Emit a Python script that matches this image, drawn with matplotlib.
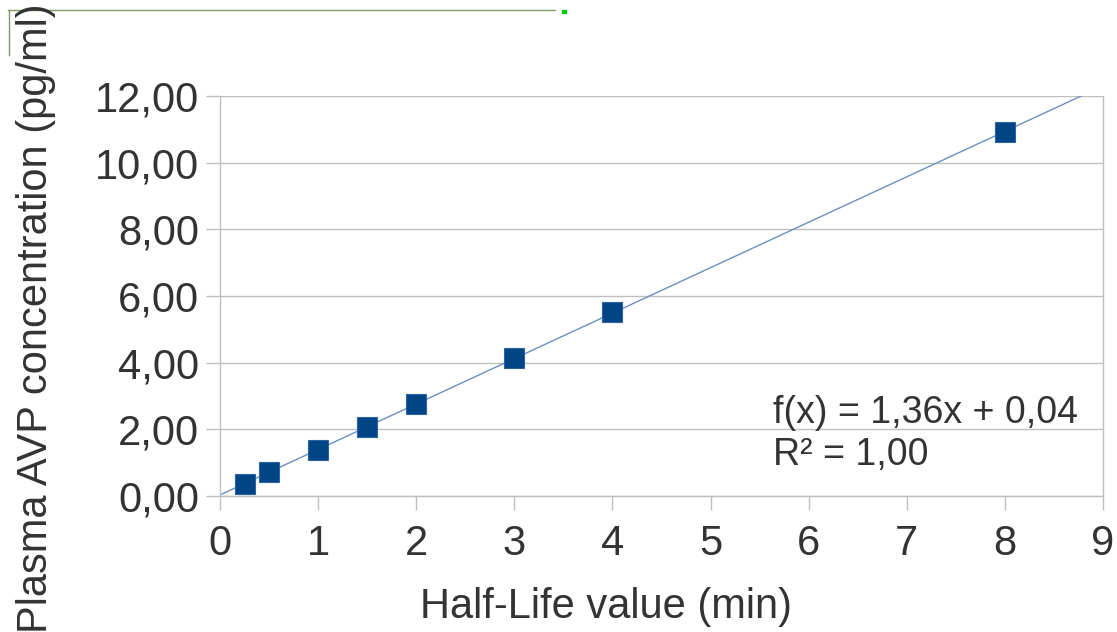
import matplotlib
matplotlib.use("Agg")
import matplotlib.pyplot as plt
import numpy as np

half_life = [0.25, 0.5, 1, 1.5, 2, 3, 4, 8]
avp_conc = [0.36, 0.72, 1.38, 2.07, 2.76, 4.14, 5.52, 10.92]
x_ticks = [0, 1, 2, 3, 4, 5, 6, 7, 8, 9]
y_ticks = [0, 2, 4, 6, 8, 10, 12]
y_tick_labels = ["0,00", "2,00", "4,00", "6,00", "8,00", "10,00", "12,00"]

plt.rcParams['font.family'] = ['Liberation Sans', 'DejaVu Sans']
W, H = 1117, 632
fig = plt.figure(figsize=(W / 100, H / 100), dpi=100)
ax = fig.add_axes([220 / W, 1 - 496 / H, (1103 - 220) / W, (496 - 96) / H])

tc = "#333333"
gc = "#bfbfbf"

slope, intercept = np.polyfit(half_life, avp_conc, 1)
x_end = (12 - intercept) / slope
xs = np.array([0, x_end])
ax.plot(xs, slope * xs + intercept, color="#6b8fc4", lw=1.0, zorder=2)
ax.plot(half_life, avp_conc, ls="none", marker="s", ms=14.2, mfc="#004586",
        mec="#2f62a0", mew=0.8, zorder=3)

ax.set_xlim(0, 9)
ax.set_ylim(0, 12)
ax.set_xticks(x_ticks)
ax.set_xticklabels([str(t) for t in x_ticks])
ax.set_yticks(y_ticks)
ax.set_yticklabels(y_tick_labels)
ax.grid(axis="y", color=gc, lw=1)
ax.set_axisbelow(True)
for s in ["left", "bottom", "right"]:
    ax.spines[s].set_color(gc)
    ax.spines[s].set_linewidth(1)
ax.spines["top"].set_visible(False)
ax.tick_params(axis="both", colors=gc, length=10, width=1, labelcolor=tc,
               labelsize=30)
ax.tick_params(axis="x", pad=10)
ax.tick_params(axis="y", pad=5)

fig.text(606 / W, 1 - 607 / H, "Half-Life value (min)", fontsize=30, color=tc,
         ha="center", va="center")
fig.text(36 / W, 1 - 318 / H, "Plasma AVP concentration (pg/ml)", fontsize=30,
         color=tc, ha="center", va="center", rotation=90)

fig.text(773 / W, 1 - 413 / H, "f(x) = 1,36x + 0,04", fontsize=27, color=tc,
         va="center", ha="left")
fig.text(773 / W, 1 - 455 / H, "R² = 1,00", fontsize=27, color=tc,
         va="center", ha="left")

# decorative frame fragments at top-left
fig.add_artist(plt.Line2D([8 / W, 555 / W], [1 - 10 / H, 1 - 10 / H],
                          transform=fig.transFigure, color="#7f9a66", lw=1))
fig.add_artist(plt.Line2D([9 / W, 9 / W], [1 - 10 / H, 1 - 55 / H],
                          transform=fig.transFigure, color="#7f9a66", lw=1))
fig.add_artist(plt.Rectangle((562 / W, 1 - 13 / H), 4 / W, 3 / H,
                             transform=fig.transFigure, color="#00cc00"))

fig.savefig("out.png", dpi=100)
